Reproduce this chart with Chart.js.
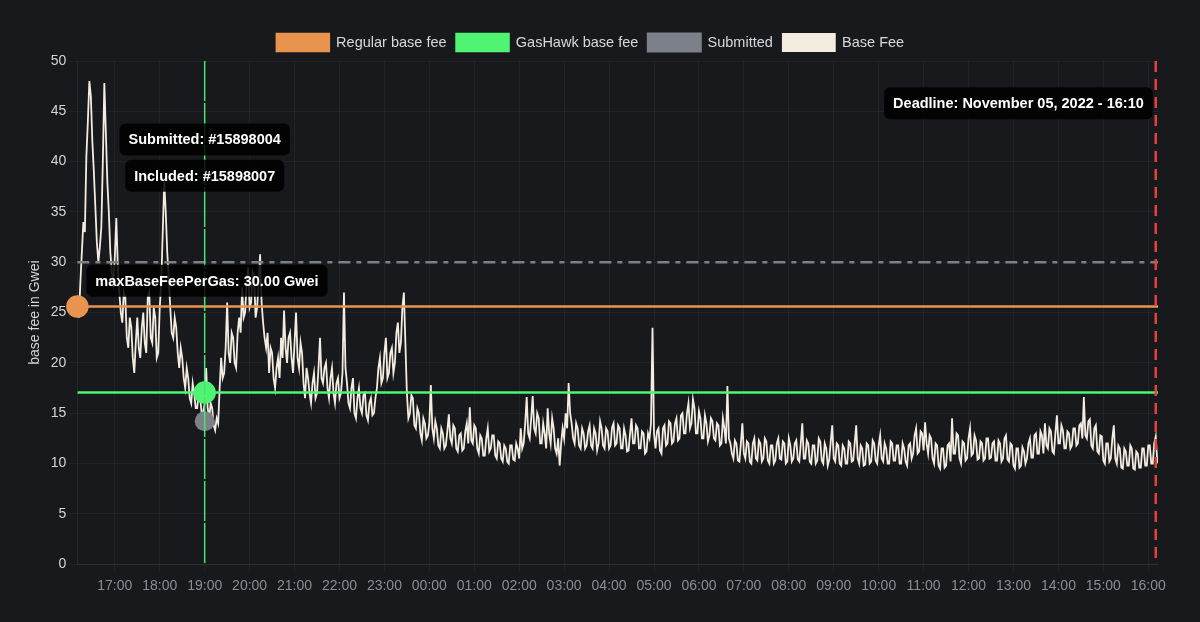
<!DOCTYPE html>
<html>
<head>
<meta charset="utf-8">
<script src="https://cdn.jsdelivr.net/npm/chart.js@4.4.0/dist/chart.umd.min.js"></script>
<style>
  html, body { margin: 0; padding: 0; background: #18191d; }
  #wrap { width: 1200px; height: 622px; }
</style>
</head>
<body>
<div id="wrap"><canvas id="feeChart"></canvas></div>
<script>
// time is in hours counted from Nov 4 00:00, so 40 = Nov 5 16:00
const startHour = 16 + 10 / 60;
const endHour = 40 + 13 / 60;
const stepMinutes = 2;

// base fee (Gwei), one value per 2 minutes
const baseFee = [
  25.5, 24.5, 28.0, 31.0, 34.0, 33.0, 40.5, 44.0, 48.0, 46.5, 42.0, 39.0, 35.5, 32.0, 30.0, 31.5,
  33.5, 40.0, 47.8, 43.0, 38.0, 35.0, 31.0, 29.0, 28.0, 30.5, 34.4, 29.5, 27.0, 25.0, 24.0, 27.0,
  26.5, 22.5, 21.5, 24.5, 23.5, 20.5, 19.0, 22.0, 24.5, 21.5, 20.5, 23.5, 25.0, 22.0, 21.0, 26.5,
  27.0, 22.5, 22.0, 25.5, 24.5, 20.5, 21.0, 25.5, 28.0, 33.0, 38.0, 35.0, 31.0, 28.5, 25.5, 23.0,
  22.5, 24.5, 23.5, 21.0, 19.5, 21.5, 20.5, 18.5, 17.5, 19.5, 18.5, 16.5, 16.0, 18.0, 17.0, 15.5,
  15.5, 17.0, 16.5, 15.0, 15.0, 16.0, 19.5, 15.5, 14.5, 16.0, 15.5, 13.8, 13.3, 14.5, 14.0, 17.5,
  20.5, 18.5, 19.0, 21.5, 26.0, 21.0, 20.0, 23.0, 22.5, 20.0, 19.5, 23.0, 24.5, 23.0, 27.5, 24.5,
  25.0, 28.0, 29.5, 25.5, 26.0, 29.0, 28.5, 24.5, 25.5, 28.0, 30.8, 26.0, 24.0, 22.5, 21.5, 23.0,
  19.0, 21.5, 21.0, 18.5, 17.5, 19.5, 20.5, 18.5, 22.5, 20.5, 25.2, 21.5, 20.0, 22.5, 23.0, 20.5,
  19.0, 22.0, 25.0, 20.5, 19.5, 22.0, 21.0, 18.0, 16.5, 19.5, 18.5, 17.0, 16.0, 18.0, 19.0, 16.5,
  17.0, 19.5, 22.5, 18.5, 18.0, 19.5, 20.0, 17.5, 16.5, 18.5, 19.5, 17.0, 16.0, 18.0, 18.5, 16.5,
  17.0, 19.0, 27.0, 19.5, 18.0, 16.0, 15.5, 17.5, 18.5, 15.0, 14.5, 16.5, 17.5, 15.5, 15.0, 16.8,
  17.0, 14.8, 14.3, 16.0, 16.5, 14.8, 15.0, 16.5, 17.5, 19.5, 20.5, 18.0, 18.5, 21.0, 22.5, 18.5,
  19.0, 21.0, 21.5, 19.0, 20.0, 23.0, 24.0, 21.0, 22.0, 25.5, 27.0, 22.0, 17.0, 14.5, 15.0, 16.8,
  16.5, 13.8, 13.5, 15.5, 15.0, 13.0, 12.3, 14.5, 14.0, 12.5, 12.8, 14.0, 17.8, 13.5, 12.5, 14.2,
  13.5, 11.8, 11.5, 13.5, 13.0, 11.5, 11.8, 13.2, 14.9, 12.5, 12.0, 13.8, 13.5, 11.5, 11.2, 12.8,
  13.0, 11.3, 11.5, 13.2, 14.0, 12.0, 15.6, 12.3, 12.0, 13.8, 13.5, 11.5, 11.0, 12.8, 12.5, 10.8,
  10.8, 12.5, 13.5, 11.2, 11.5, 12.8, 12.8, 10.8, 10.5, 12.2, 12.0, 10.5, 10.2, 11.8, 11.5, 10.2,
  10.0, 11.8, 11.8, 10.4, 10.3, 12.0, 11.5, 10.5, 13.5, 11.5, 12.0, 14.0, 16.6, 13.0, 12.5, 14.5,
  16.7, 13.5, 13.0, 15.0, 14.5, 12.0, 12.0, 14.0, 13.0, 11.5, 15.5, 13.0, 12.0, 14.5, 13.5, 11.5,
  11.0, 12.5, 9.8, 12.0, 13.5, 12.5, 15.0, 13.5, 18.0, 15.0, 14.0, 12.5, 12.0, 14.0, 13.5, 11.8,
  11.5, 13.5, 13.0, 11.5, 11.8, 13.2, 13.8, 11.8, 11.5, 13.5, 13.0, 11.3, 12.0, 14.2, 13.5, 11.8,
  11.5, 13.5, 13.2, 11.5, 11.8, 13.6, 14.0, 11.8, 12.0, 13.8, 13.5, 11.5, 11.5, 13.5, 12.8, 11.2,
  11.3, 13.0, 14.5, 12.0, 12.0, 13.8, 13.5, 11.5, 11.5, 13.2, 13.0, 11.0, 11.2, 13.0, 12.5, 14.0,
  23.5, 13.0, 11.5, 13.2, 13.5, 11.3, 11.0, 13.5, 13.8, 11.8, 12.0, 14.2, 14.0, 12.0, 12.2, 14.0,
  14.5, 12.3, 12.5, 14.8, 15.0, 13.0, 13.0, 15.0, 16.0, 13.5, 14.0, 16.4, 15.5, 13.0, 13.0, 15.2,
  14.5, 12.5, 12.5, 14.8, 14.0, 12.2, 12.8, 14.5, 14.2, 12.5, 12.3, 14.0, 13.8, 11.8, 12.0, 14.5,
  13.5, 12.0, 17.7, 12.5, 12.0, 11.0, 10.5, 12.3, 12.0, 10.3, 10.2, 12.0, 14.0, 11.0, 10.5, 12.2,
  12.0, 10.2, 10.0, 12.0, 12.5, 10.5, 10.3, 12.3, 12.0, 10.2, 10.5, 12.5, 12.2, 10.3, 10.0, 11.8,
  11.8, 10.0, 10.3, 12.0, 12.5, 10.5, 10.4, 12.2, 12.0, 10.0, 10.2, 12.5, 11.8, 10.2, 10.5, 12.0,
  12.3, 10.4, 10.2, 12.0, 14.0, 10.5, 10.5, 12.3, 12.0, 10.2, 10.0, 11.8, 11.8, 10.0, 10.3, 12.5,
  12.2, 10.3, 10.0, 12.0, 11.5, 9.8, 10.4, 12.2, 13.8, 10.5, 10.2, 12.0, 11.8, 10.0, 9.8, 11.8,
  11.5, 10.0, 10.0, 12.2, 12.0, 10.2, 10.3, 12.0, 13.8, 10.5, 10.0, 11.8, 11.5, 9.8, 9.9, 12.0,
  11.8, 10.0, 10.2, 12.3, 12.0, 10.3, 10.0, 11.8, 12.8, 10.5, 10.2, 12.0, 11.5, 10.0, 10.0, 12.2,
  12.0, 10.3, 10.3, 11.8, 11.8, 10.0, 10.0, 12.0, 11.5, 10.2, 9.8, 11.8, 12.0, 10.5, 11.0, 12.8,
  13.5, 11.0, 11.2, 13.2, 13.0, 11.3, 14.1, 12.0, 11.0, 12.8, 12.5, 10.5, 10.0, 12.0, 11.8, 9.8,
  9.5, 11.5, 11.5, 9.6, 9.8, 11.8, 12.0, 10.2, 14.5, 11.0, 11.0, 13.0, 12.8, 10.5, 10.0, 12.2,
  12.0, 10.3, 10.5, 12.5, 13.5, 10.8, 11.0, 12.8, 12.3, 10.4, 10.5, 12.2, 12.0, 10.3, 10.5, 12.5,
  12.5, 10.5, 10.6, 12.0, 12.2, 10.3, 10.3, 12.3, 12.0, 10.2, 10.5, 12.5, 12.8, 10.4, 10.2, 12.0,
  11.8, 9.8, 9.5, 11.5, 11.5, 9.6, 9.8, 11.6, 11.2, 10.0, 10.5, 12.0, 12.5, 10.6, 10.6, 12.8,
  13.0, 11.0, 11.0, 13.2, 12.8, 11.0, 14.0, 11.8, 11.5, 13.5, 13.2, 11.2, 11.0, 13.0, 14.8, 12.0,
  12.0, 13.8, 13.3, 11.5, 11.5, 13.2, 13.0, 11.5, 11.8, 13.5, 13.5, 11.8, 12.0, 13.8, 14.0, 12.5,
  16.6, 12.8, 12.5, 14.2, 14.4, 11.8, 11.5, 13.5, 13.8, 11.2, 11.0, 12.8, 12.7, 10.3, 10.0, 12.0,
  12.0, 10.2, 10.5, 12.5, 13.8, 10.5, 10.0, 11.8, 11.5, 9.6, 9.5, 11.5, 11.2, 9.8, 9.8, 11.8,
  11.5, 9.5, 9.4, 11.2, 11.0, 9.6, 9.6, 11.5, 11.5, 9.8, 9.8, 11.8, 11.8, 10.0, 10.0, 12.0,
  12.7, 10.2, 10.0, 11.5
];

const regularBaseFee = 25.6;
const gasHawkBaseFee = 17.05;
const submittedFee = 14.2;
const submittedHour = 19;
const maxBaseFee = 30;
const deadlineHour = 40 + 10 / 60;
const submittedBlock = '#15898004';
const includedBlock = '#15898007';
const deadlineText = 'November 05, 2022 - 16:10';

const baseFeePoints = baseFee.map((v, i) => ({ x: startHour + i * stepMinutes / 60, y: v }));

function roundBox(ctx, text, x, y, align) {
  ctx.font = "bold 14.5px 'Liberation Sans', Arial, sans-serif";
  const w = ctx.measureText(text).width + 18;
  const h = 32;
  let left = x - w / 2;
  if (align === 'left') left = x;
  if (align === 'right') left = x - w;
  ctx.fillStyle = 'rgba(0,0,0,0.85)';
  ctx.beginPath();
  ctx.roundRect(left, y - h / 2, w, h, 6);
  ctx.fill();
  ctx.fillStyle = '#ffffff';
  ctx.textAlign = 'center';
  ctx.textBaseline = 'middle';
  ctx.fillText(text, left + w / 2, y + 1);
}

const annotations = {
  id: 'annotations',
  afterDatasetsDraw(chart) {
    const { ctx, chartArea: a, scales: { x, y } } = chart;
    ctx.save();
    const yMax = y.getPixelForValue(maxBaseFee);
    ctx.strokeStyle = '#7c8088';
    ctx.lineWidth = 2.5;
    ctx.setLineDash([12, 6, 5, 6]);
    ctx.beginPath();
    ctx.moveTo(a.left, yMax);
    ctx.lineTo(a.right, yMax);
    ctx.stroke();

    const xs = x.getPixelForValue(submittedHour);
    ctx.strokeStyle = '#4fe072';
    ctx.lineWidth = 1.5;
    ctx.setLineDash([40, 2]);
    ctx.beginPath();
    ctx.moveTo(xs, a.top);
    ctx.lineTo(xs, a.bottom);
    ctx.stroke();

    const xd = x.getPixelForValue(deadlineHour);
    ctx.strokeStyle = '#e5403b';
    ctx.lineWidth = 2.5;
    ctx.setLineDash([11, 7]);
    ctx.beginPath();
    ctx.moveTo(xd, a.top);
    ctx.lineTo(xd, a.bottom);
    ctx.stroke();
    ctx.setLineDash([]);

    roundBox(ctx, 'Submitted: ' + submittedBlock, xs, y.getPixelForValue(42.2), 'center');
    roundBox(ctx, 'Included: ' + includedBlock, xs, y.getPixelForValue(38.6), 'center');
    roundBox(ctx, 'maxBaseFeePerGas: ' + maxBaseFee.toFixed(2) + ' Gwei', a.left + 9, yMax + 18.5, 'left');
    roundBox(ctx, 'Deadline: ' + deadlineText, xd - 3, y.getPixelForValue(45.8), 'right');
    ctx.restore();
  }
};

Chart.defaults.font.family = "'Liberation Sans', Arial, sans-serif";
Chart.defaults.font.size = 14;

new Chart(document.getElementById('feeChart'), {
  type: 'line',
  data: {
    datasets: [
      {
        label: 'Regular base fee',
        data: [{ x: startHour, y: regularBaseFee }, { x: endHour, y: regularBaseFee }],
        borderColor: '#e8944f',
        backgroundColor: '#e8944f',
        borderWidth: 2.5,
        pointRadius: [10, 0],
        pointHoverRadius: [10, 0],
        clip: false,
      },
      {
        label: 'GasHawk base fee',
        data: [{ x: startHour, y: gasHawkBaseFee }, { x: submittedHour, y: gasHawkBaseFee }, { x: endHour, y: gasHawkBaseFee }],
        borderColor: '#4ff572',
        backgroundColor: '#4ff572',
        borderWidth: 2.5,
        pointRadius: [0, 10, 0],
        pointHoverRadius: [0, 10, 0],
      },
      {
        label: 'Submitted',
        data: [{ x: submittedHour, y: submittedFee }],
        borderColor: '#7b8089',
        backgroundColor: '#7b8089',
        showLine: false,
        pointRadius: 10,
        pointBorderWidth: 0,
      },
      {
        label: 'Base Fee',
        data: baseFeePoints,
        borderColor: '#f3ece0',
        backgroundColor: '#f3ece0',
        borderWidth: 1.8,
        pointRadius: 0,
        tension: 0,
      },
    ],
  },
  options: {
    responsive: true,
    maintainAspectRatio: false,
    animation: false,
    layout: { padding: { top: 24, right: 42, bottom: 21, left: 23 } },
    plugins: {
      tooltip: { enabled: false },
      legend: {
        labels: { color: '#d9d9d9', boxWidth: 52, boxHeight: 17, padding: 10, font: { size: 14.5 } },
      },
    },
    scales: {
      x: {
        type: 'linear',
        min: startHour,
        max: endHour,
        grid: { color: 'rgba(255,255,255,0.045)' },
        border: { color: 'rgba(255,255,255,0.06)' },
        ticks: {
          stepSize: 1,
          includeBounds: false,
          autoSkip: false,
          maxRotation: 0,
          padding: 6,
          color: '#8a8d92',
          callback: (v) => String(v % 24).padStart(2, '0') + ':00',
        },
      },
      y: {
        min: 0,
        max: 50,
        grid: { color: 'rgba(255,255,255,0.045)' },
        border: { color: 'rgba(255,255,255,0.06)' },
        ticks: { stepSize: 5, color: '#d4d4d4' },
        title: { display: true, text: 'base fee in Gwei', color: '#d4d4d4' },
      },
    },
  },
  plugins: [annotations],
});
</script>
</body>
</html>
